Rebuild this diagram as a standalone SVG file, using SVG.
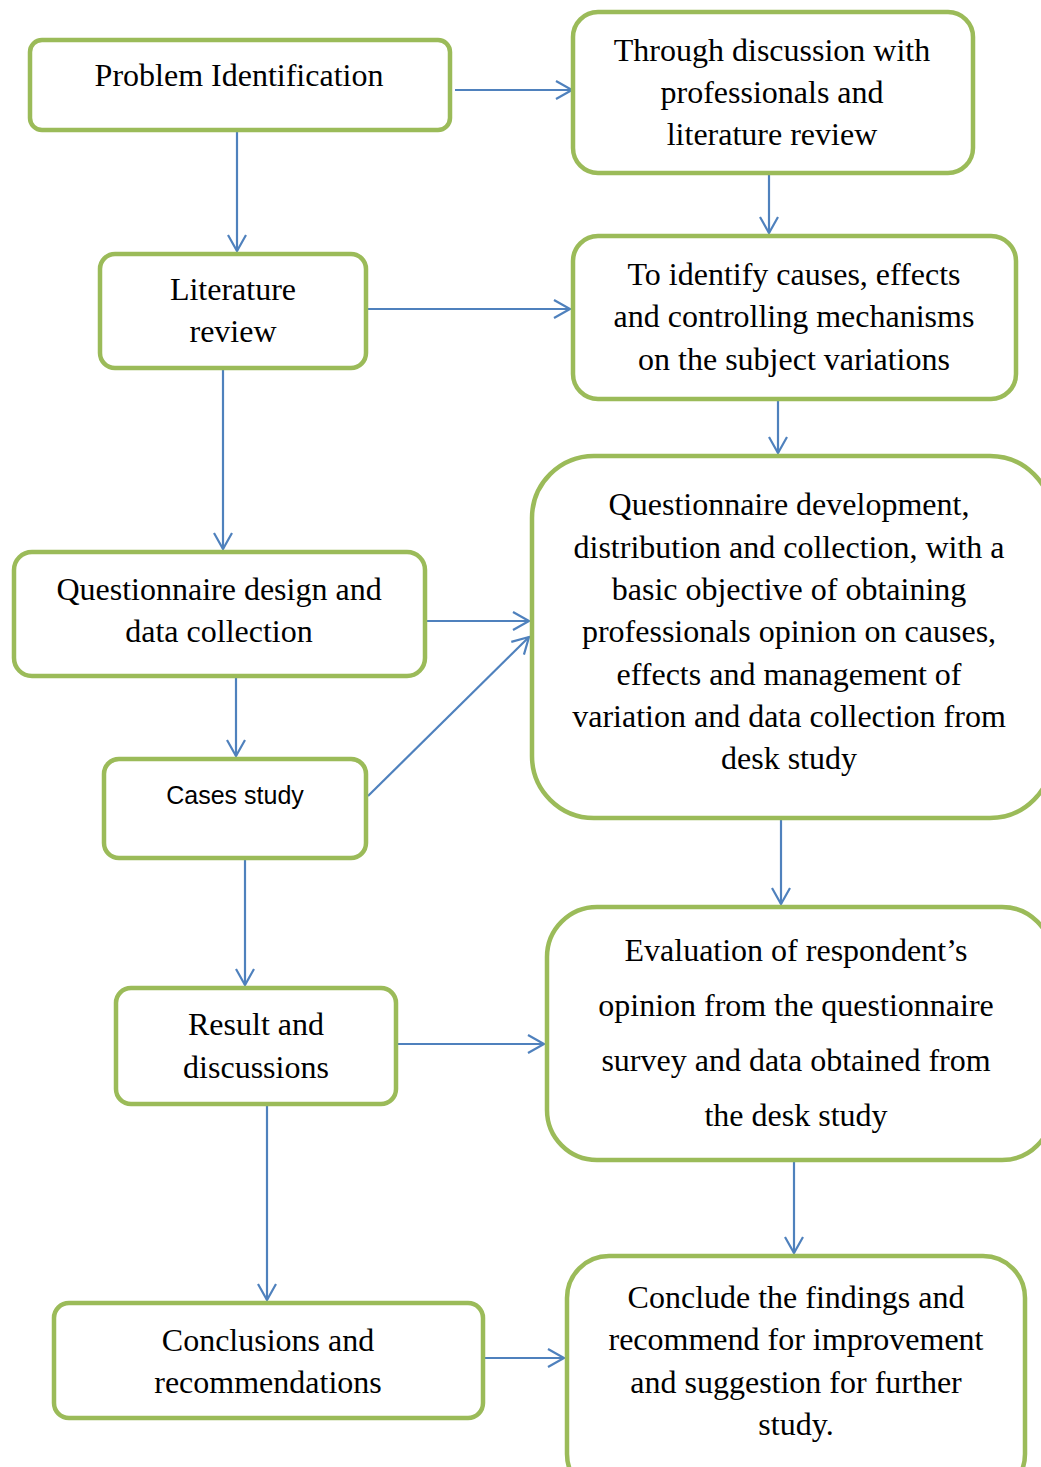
<svg xmlns="http://www.w3.org/2000/svg" width="1041" height="1467" viewBox="0 0 1041 1467">
<style>
.box{fill:#fff;stroke:#9BBB59;stroke-width:4.5}
.t{font-family:"Liberation Serif","Times New Roman",serif;font-size:32px;fill:#000;text-anchor:middle}
.c{font-family:"Liberation Sans",Arial,sans-serif;font-size:25px;fill:#000;text-anchor:middle}
.ln{fill:none;stroke:#4F81BD;stroke-width:2.2;marker-end:url(#ah)}
</style>
<defs>
<marker id="ah" markerUnits="userSpaceOnUse" markerWidth="20" markerHeight="22" refX="17" refY="10" orient="auto" viewBox="0 0 20 20">
<path d="M1,1 L17,10 L1,19" fill="none" stroke="#4F81BD" stroke-width="2.2"/>
</marker>
</defs>
<rect width="1041" height="1467" fill="#fff"/>
<g id="connectors">
<line class="ln" x1="455" y1="90" x2="572" y2="90"/>
<line class="ln" x1="237" y1="132" x2="237" y2="251"/>
<line class="ln" x1="769" y1="174" x2="769" y2="233"/>
<line class="ln" x1="367" y1="309" x2="570" y2="309"/>
<line class="ln" x1="778" y1="400" x2="778" y2="453"/>
<line class="ln" x1="223" y1="369" x2="223" y2="549"/>
<line class="ln" x1="427" y1="621" x2="529" y2="621"/>
<line class="ln" x1="236" y1="677" x2="236" y2="756"/>
<line class="ln" x1="368" y1="796" x2="529" y2="637"/>
<line class="ln" x1="781" y1="819" x2="781" y2="904"/>
<line class="ln" x1="245" y1="859" x2="245" y2="985"/>
<line class="ln" x1="397" y1="1044" x2="544" y2="1044"/>
<line class="ln" x1="794" y1="1161" x2="794" y2="1253"/>
<line class="ln" x1="267" y1="1106" x2="267" y2="1300"/>
<line class="ln" x1="484" y1="1358" x2="564" y2="1358"/>
</g>
<g id="n1"><rect class="box" x="30" y="40" width="420" height="90" rx="12"/>
<text class="t" x="239" y="86">Problem Identification</text></g>
<g id="n2"><rect class="box" x="573" y="12" width="400" height="161" rx="25"/>
<text class="t" x="772" y="61">Through discussion with</text>
<text class="t" x="772" y="103">professionals and</text>
<text class="t" x="772" y="145">literature review</text></g>
<g id="n3"><rect class="box" x="100" y="254" width="266" height="114" rx="15"/>
<text class="t" x="233" y="300">Literature</text>
<text class="t" x="233" y="342">review</text></g>
<g id="n4"><rect class="box" x="573" y="236" width="443" height="163" rx="25"/>
<text class="t" x="794" y="285">To identify causes, effects</text>
<text class="t" x="794" y="327">and controlling mechanisms</text>
<text class="t" x="794" y="370">on the subject variations</text></g>
<g id="n5"><rect class="box" x="532" y="456" width="520" height="362" rx="62"/>
<text class="t" x="789" y="515">Questionnaire development,</text>
<text class="t" x="789" y="558">distribution and collection, with a</text>
<text class="t" x="789" y="600">basic objective of obtaining</text>
<text class="t" x="789" y="642">professionals opinion on causes,</text>
<text class="t" x="789" y="685">effects and management of</text>
<text class="t" x="789" y="727">variation and data collection from</text>
<text class="t" x="789" y="769">desk study</text></g>
<g id="n6"><rect class="box" x="14" y="552" width="411" height="124" rx="18"/>
<text class="t" x="219" y="600">Questionnaire design and</text>
<text class="t" x="219" y="642">data collection</text></g>
<g id="n7"><rect class="box" x="104" y="759" width="262" height="99" rx="15"/>
<text class="c" x="235" y="804">Cases study</text></g>
<g id="n8"><rect class="box" x="547" y="907" width="505" height="253" rx="50"/>
<text class="t" x="796" y="961">Evaluation of respondent’s</text>
<text class="t" x="796" y="1016">opinion from the questionnaire</text>
<text class="t" x="796" y="1071">survey and data obtained from</text>
<text class="t" x="796" y="1126">the desk study</text></g>
<g id="n9"><rect class="box" x="116" y="988" width="280" height="116" rx="15"/>
<text class="t" x="256" y="1035">Result and</text>
<text class="t" x="256" y="1078">discussions</text></g>
<g id="n10"><rect class="box" x="54" y="1303" width="429" height="115" rx="15"/>
<text class="t" x="268" y="1351">Conclusions and</text>
<text class="t" x="268" y="1393">recommendations</text></g>
<g id="n11"><rect class="box" x="567" y="1256" width="458" height="240" rx="42"/>
<text class="t" x="796" y="1308">Conclude the findings and</text>
<text class="t" x="796" y="1350">recommend for improvement</text>
<text class="t" x="796" y="1393">and suggestion for further</text>
<text class="t" x="796" y="1435">study.</text></g>
</svg>
